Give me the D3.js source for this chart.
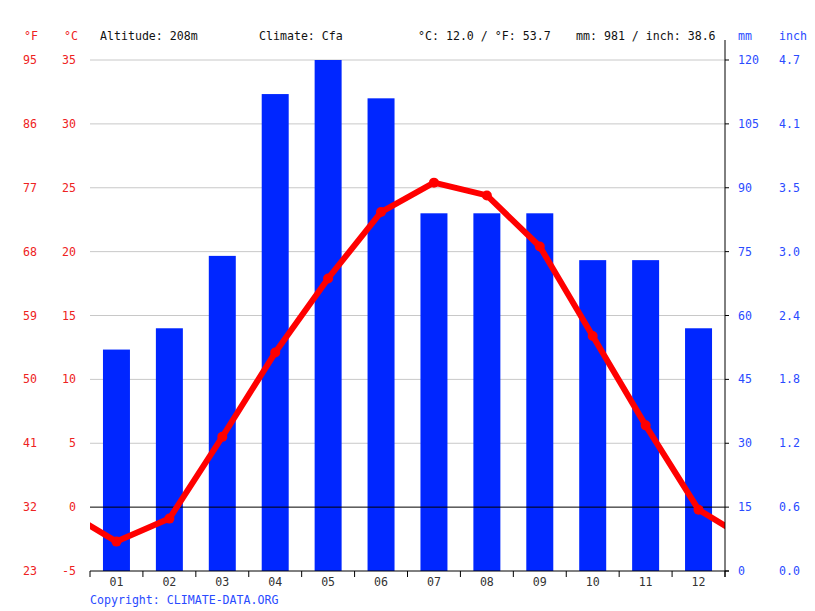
<!DOCTYPE html>
<html>
<head>
<meta charset="utf-8">
<script src="https://cdn.jsdelivr.net/npm/d3@7"></script>
<style>
  body { margin: 0; background: #fff; }
  text { font-family: "DejaVu Sans Mono", monospace; font-size: 11.6px; }
</style>
</head>
<body>
<div id="chart"></div>
<script>
// climate data
const months = ["01", "02", "03", "04", "05", "06", "07", "08", "09", "10", "11", "12"];
const precipMm = [52, 57, 74, 112, 120, 111, 84, 84, 84, 73, 73, 57];
const tempC = [-2.7, -0.9, 5.5, 12.1, 17.9, 23.1, 25.4, 24.4, 20.4, 13.4, 6.4, -0.2];
const cTicks = [-5, 0, 5, 10, 15, 20, 25, 30, 35];
const fTicks = [23, 32, 41, 50, 59, 68, 77, 86, 95];
const mmTicks = [0, 15, 30, 45, 60, 75, 90, 105, 120];
const inchTicks = ["0.0", "0.6", "1.2", "1.8", "2.4", "3.0", "3.5", "4.1", "4.7"];
const header = [
    {x: 100, t: "Altitude: 208m"},
    {x: 259, t: "Climate: Cfa"},
    {x: 418, t: "°C: 12.0 / °F: 53.7"},
    {x: 576, t: "mm: 981 / inch: 38.6"}
];

const W = 815, H = 611;
const pl = 90, pr = 725, pt = 60, pb = 571;
const red = "#ff0000", redText = "#ee2222", blue = "#0026ff", blueText = "#2a4bff";

const svg = d3.select("#chart").append("svg")
    .attr("width", W)
    .attr("height", H);

const x = d3.scaleBand().domain(months).range([pl, pr]).paddingInner(0.49).paddingOuter(0.245);
const xb = d3.scaleBand().domain(months).range([pl, pr]);
const yC = d3.scaleLinear().domain([-5, 35]).range([pb, pt]);
const yMm = d3.scaleLinear().domain([0, 120]).range([pb, pt]);

// grid
svg.append("g").selectAll("line")
    .data(cTicks.filter(d => d !== -5 && d !== 0))
    .join("line")
    .attr("x1", pl).attr("x2", pr)
    .attr("y1", d => yC(d)).attr("y2", d => yC(d))
    .attr("stroke", "#c8c8c8").attr("stroke-width", 1);

// bars
svg.append("g").selectAll("rect")
    .data(precipMm)
    .join("rect")
    .attr("x", (d, i) => x(months[i]))
    .attr("width", x.bandwidth())
    .attr("y", d => yMm(d))
    .attr("height", d => yMm(0) - yMm(d))
    .attr("fill", blue);

// zero line
svg.append("line")
    .attr("x1", pl).attr("x2", pr)
    .attr("y1", yC(0)).attr("y2", yC(0))
    .attr("stroke", "#000");

// temperature line, wrapped Dec->Jan at both edges and clipped to plot
svg.append("clipPath").attr("id", "clip")
    .append("rect").attr("x", pl).attr("y", 0).attr("width", pr - pl).attr("height", H);

const cx = i => pl + xb.bandwidth() * (i + 0.5);
const pts = [[-1, tempC[11]]].concat(tempC.map((d, i) => [i, d]), [[12, tempC[0]]]);
const line = d3.line().x(d => cx(d[0])).y(d => yC(d[1]));

const tg = svg.append("g").attr("clip-path", "url(#clip)");
tg.append("path")
    .datum(pts)
    .attr("d", line)
    .attr("fill", "none")
    .attr("stroke", red)
    .attr("stroke-width", 6)
    .attr("stroke-linejoin", "round");
tg.selectAll("circle")
    .data(tempC)
    .join("circle")
    .attr("cx", (d, i) => cx(i))
    .attr("cy", d => yC(d))
    .attr("r", 5)
    .attr("fill", red);

// x axis
const xAxis = svg.append("g")
    .attr("transform", `translate(0,${pb})`);
xAxis.append("line").attr("x1", pl).attr("x2", pr + 4).attr("stroke", "#000");
xAxis.selectAll(".tk")
    .data(d3.range(13))
    .join("line")
    .attr("x1", i => pl + xb.bandwidth() * i)
    .attr("x2", i => pl + xb.bandwidth() * i)
    .attr("y1", 0).attr("y2", 6)
    .attr("stroke", "#000");
xAxis.selectAll("text")
    .data(months)
    .join("text")
    .attr("x", d => xb(d) + xb.bandwidth() / 2)
    .attr("y", 15)
    .attr("text-anchor", "middle")
    .attr("fill", "#333")
    .text(d => d);

// right axis line
svg.append("line")
    .attr("x1", pr).attr("x2", pr)
    .attr("y1", 40).attr("y2", pb + 6)
    .attr("stroke", "#000");
svg.append("g").selectAll("line")
    .data(mmTicks)
    .join("line")
    .attr("x1", pr).attr("x2", pr + 4)
    .attr("y1", d => yMm(d)).attr("y2", d => yMm(d))
    .attr("stroke", "#000");

// left labels
svg.append("g").selectAll("text")
    .data(cTicks)
    .join("text")
    .attr("x", 76).attr("y", d => yC(d) + 4)
    .attr("text-anchor", "end")
    .attr("fill", redText)
    .text(d => d);
svg.append("g").selectAll("text")
    .data(fTicks)
    .join("text")
    .attr("x", 37).attr("y", (d, i) => yC(cTicks[i]) + 4)
    .attr("text-anchor", "end")
    .attr("fill", redText)
    .text(d => d);

// right labels
svg.append("g").selectAll("text")
    .data(mmTicks)
    .join("text")
    .attr("x", 738).attr("y", d => yMm(d) + 4)
    .attr("fill", blueText)
    .text(d => d);
svg.append("g").selectAll("text")
    .data(inchTicks)
    .join("text")
    .attr("x", 779).attr("y", (d, i) => yMm(mmTicks[i]) + 4)
    .attr("fill", blueText)
    .text(d => d);

// unit headers
svg.append("text").attr("x", 24).attr("y", 40).attr("fill", redText).text("°F");
svg.append("text").attr("x", 64).attr("y", 40).attr("fill", redText).text("°C");
svg.append("text").attr("x", 738).attr("y", 40).attr("fill", blueText).text("mm");
svg.append("text").attr("x", 779).attr("y", 40).attr("fill", blueText).text("inch");

svg.append("g").selectAll("text")
    .data(header)
    .join("text")
    .attr("x", d => d.x).attr("y", 40)
    .attr("fill", "#111")
    .text(d => d.t);

svg.append("text")
    .attr("x", 90).attr("y", 604)
    .attr("fill", blueText)
    .text("Copyright: CLIMATE-DATA.ORG");
</script>
</body>
</html>
